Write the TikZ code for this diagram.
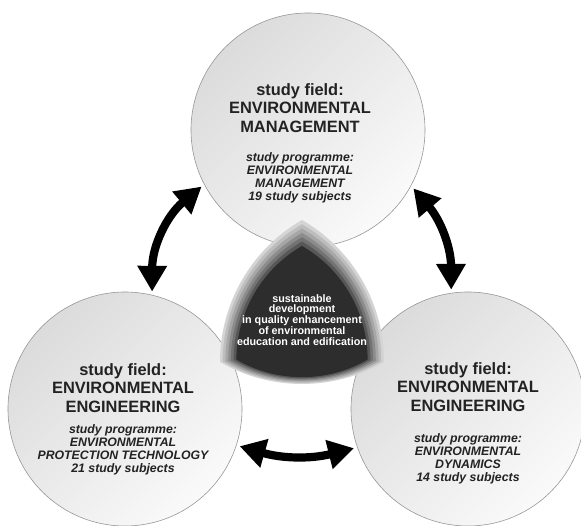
\documentclass[tikz,border=0pt]{standalone}
\usepackage{fontspec}
\setmainfont{Liberation Sans}
\usetikzlibrary{arrows.meta}
\definecolor{textgrey}{RGB}{34,34,34}
\definecolor{rimgrey}{RGB}{150,150,150}
\definecolor{coredark}{RGB}{45,45,45}

\begin{document}
\begin{tikzpicture}[x=0.03cm, y=0.03cm,
    field/.style={circle, minimum size=7.02cm, draw=rimgrey, line width=0.5pt,
      top color=black!14, bottom color=black!2, shading angle=45, outer sep=3pt},
    head/.style={align=center, text=textgrey,
      font=\fontsize{14}{15.8}\selectfont\bfseries},
    prog/.style={align=center, text=textgrey,
      font=\fontsize{10.5}{11.2}\selectfont\bfseries\itshape},
    coretext/.style={align=center, text=white,
      font=\fontsize{9.2}{9.3}\selectfont\bfseries},
    link/.style={line width=7pt, {Triangle[length=22pt,width=24pt]}-{Triangle[length=22pt,width=24pt]}}]

    \fill[white] (0,0) rectangle (581,526);
    \useasboundingbox (0,0) rectangle (581,526);

    % the three study fields
    \node[field] (mgmt) at (308,396) {};
    \node[field] (eng) at (125,117) {};
    \node[field] (dyn) at (468,117) {};

    % curved triangle in the middle, drawn in shrinking layers
    \begin{scope}[shift={(302,176)}]
        \foreach \k/\c in {1/black!17, 0.967/black!26, 0.934/black!35, 0.9/black!45,
                           0.867/black!55, 0.834/black!66, 0.8/coredark}
            \fill[\c] (-82*\k,-12*\k)
                arc[start angle=240, end angle=300, radius=164*\k]
                arc[start angle=0, end angle=60, radius=164*\k]
                arc[start angle=120, end angle=180, radius=164*\k] -- cycle;
    \end{scope}

    \node[coretext] (core) at (302,206) {sustainable\\development\\in quality enhancement\\of environmental\\education and edification};

    \node[head] (mgmthead) at (300,418) {study field:\\ENVIRONMENTAL\\MANAGEMENT};
    \node[prog] (mgmtprog) at (300,348) {study programme:\\ENVIRONMENTAL\\MANAGEMENT\\19 study subjects};

    \node[head] (enghead) at (123,138) {study field:\\ENVIRONMENTAL\\ENGINEERING};
    \node[prog] (engprog) at (123,76) {study programme:\\ENVIRONMENTAL\\PROTECTION TECHNOLOGY\\21 study subjects};

    \node[head] (dynhead) at (468,139) {study field:\\ENVIRONMENTAL\\ENGINEERING};
    \node[prog] (dynprog) at (468,67) {study programme:\\ENVIRONMENTAL\\DYNAMICS\\14 study subjects};

    % links between the fields
    \draw[link] (mgmt.208) to[bend right=25] (eng.77);
    \draw[link] (mgmt.331) to[bend left=20] (dyn.98);
    \draw[link] (eng.342) to[bend right=15] (dyn.199);
\end{tikzpicture}
\end{document}
